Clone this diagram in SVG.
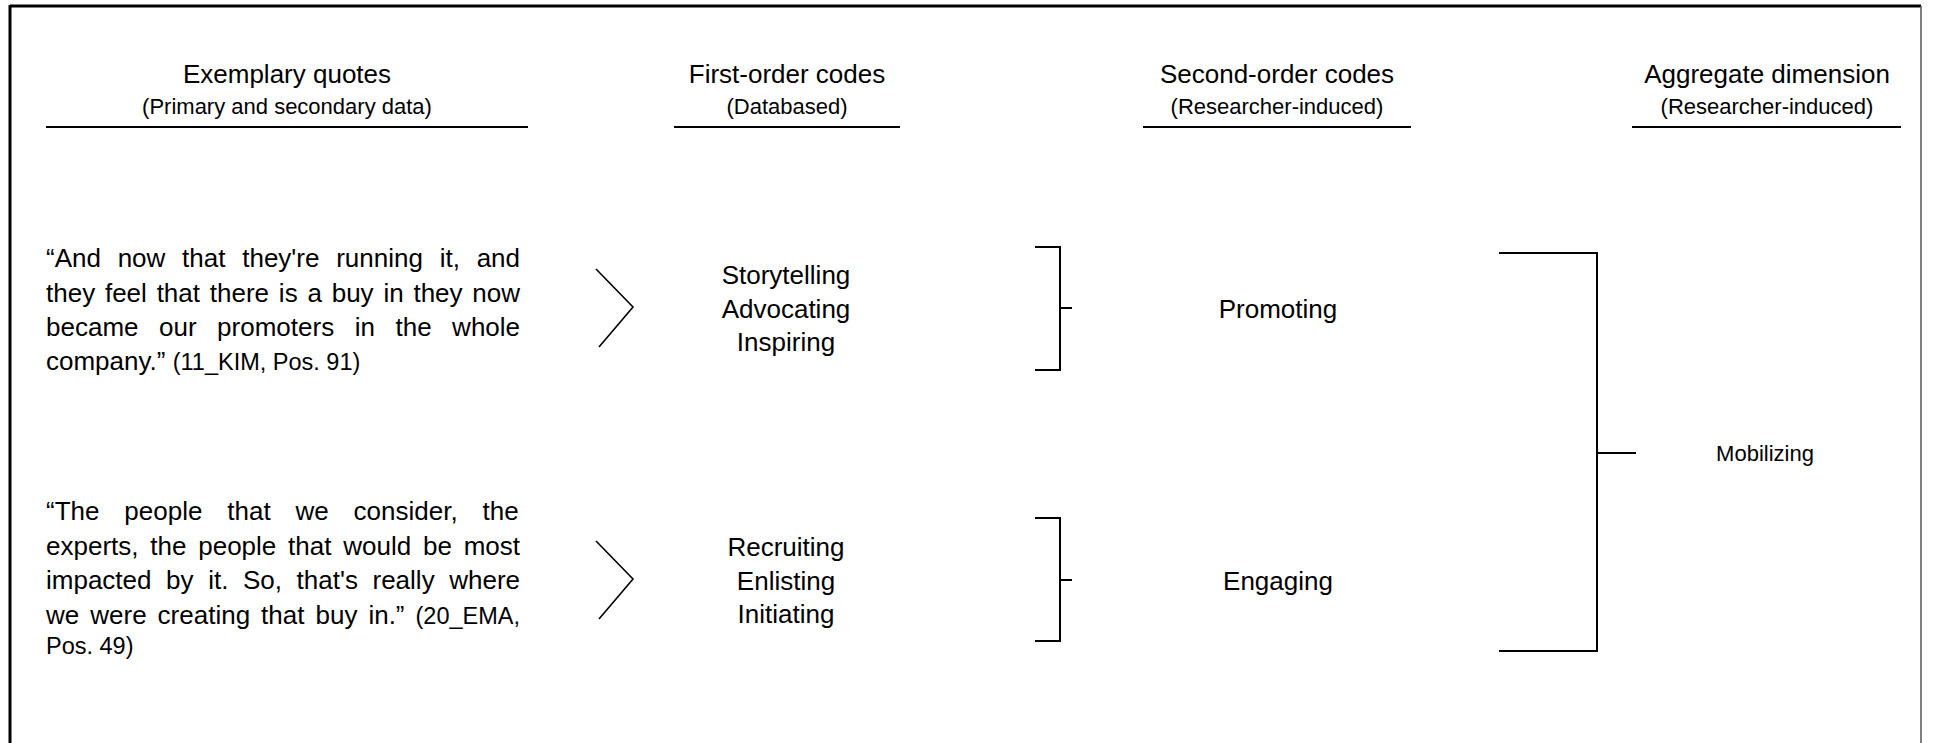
<svg xmlns="http://www.w3.org/2000/svg" width="1936" height="743" viewBox="0 0 1936 743">
  <style>
    text { font-family: "Liberation Sans", Arial, sans-serif; fill: #000; }
    .head { font-size: 26px; text-anchor: middle; }
    .sub { font-size: 22px; text-anchor: middle; }
    .code { font-size: 26px; text-anchor: middle; }
    .quote { font-size: 26px; }
    .cite { font-size: 23.5px; }
    .agg { font-size: 22px; text-anchor: middle; }
    .rule { stroke: #000; stroke-width: 2; fill: none; }
    .bracket { stroke: #000; stroke-width: 2; fill: none; }
    .chev { stroke: #000; stroke-width: 1.6; fill: none; stroke-linejoin: miter; }
  </style>

  <rect x="0" y="0" width="1936" height="743" fill="#fff"/>

  <!-- frame -->
  <g id="frame">
    <line x1="10" y1="6" x2="1921" y2="6" stroke="#000" stroke-width="3"/>
    <line x1="10" y1="5" x2="10" y2="743" stroke="#000" stroke-width="3"/>
    <line x1="1921" y1="6" x2="1921" y2="743" stroke="#555" stroke-width="1.5"/>
  </g>

  <!-- column headers -->
  <g id="header-quotes">
    <text class="head" x="287" y="83">Exemplary quotes</text>
    <text class="sub" x="287" y="114">(Primary and secondary data)</text>
    <line class="rule" x1="46" y1="127" x2="528" y2="127"/>
  </g>
  <g id="header-first">
    <text class="head" x="787" y="83">First-order codes</text>
    <text class="sub" x="787" y="114">(Databased)</text>
    <line class="rule" x1="674" y1="127" x2="900" y2="127"/>
  </g>
  <g id="header-second">
    <text class="head" x="1277" y="83">Second-order codes</text>
    <text class="sub" x="1277" y="114">(Researcher-induced)</text>
    <line class="rule" x1="1143" y1="127" x2="1411" y2="127"/>
  </g>
  <g id="header-aggregate">
    <text class="head" x="1767" y="83">Aggregate dimension</text>
    <text class="sub" x="1767" y="114">(Researcher-induced)</text>
    <line class="rule" x1="1632" y1="127" x2="1901" y2="127"/>
  </g>

  <!-- exemplary quotes, justified lines -->
  <g id="quote-kim">
    <text class="quote" x="46" y="267" style="word-spacing:9.52px">“And now that they're running it, and</text>
    <text class="quote" x="46" y="302" style="word-spacing:2.57px">they feel that there is a buy in they now</text>
    <text class="quote" x="46" y="336" style="word-spacing:13.3px">became our promoters in the whole</text>
    <text class="quote" x="46" y="370">company.” <tspan class="cite">(11_KIM, Pos. 91)</tspan></text>
  </g>
  <g id="quote-ema">
    <text class="quote" x="46" y="520" style="word-spacing:17.63px">“The people that we consider, the</text>
    <text class="quote" x="46" y="555" style="word-spacing:4.57px">experts, the people that would be most</text>
    <text class="quote" x="46" y="589" style="word-spacing:7.37px">impacted by it. So, that's really where</text>
    <text class="quote" x="46" y="624" style="word-spacing:3.78px">we were creating that buy in.” <tspan class="cite">(20_EMA,</tspan></text>
    <text class="cite" x="46" y="654">Pos. 49)</text>
  </g>

  <!-- first-order codes -->
  <g id="codes-promoting">
    <text class="code" x="786" y="284">Storytelling</text>
    <text class="code" x="786" y="318">Advocating</text>
    <text class="code" x="786" y="351">Inspiring</text>
  </g>
  <g id="codes-engaging">
    <text class="code" x="786" y="556">Recruiting</text>
    <text class="code" x="786" y="590">Enlisting</text>
    <text class="code" x="786" y="623">Initiating</text>
  </g>

  <!-- second-order codes -->
  <g id="theme-promoting">
    <text class="code" x="1278" y="318">Promoting</text>
  </g>
  <g id="theme-engaging">
    <text class="code" x="1278" y="590">Engaging</text>
  </g>

  <!-- aggregate dimension -->
  <g id="dimension-mobilizing">
    <text class="agg" x="1765" y="461">Mobilizing</text>
  </g>

  <!-- connectors: chevrons and brackets -->
  <g id="connectors">
    <polyline class="chev" points="596,269 633,307 599,347"/>
    <polyline class="chev" points="596,541 633,579 599,619"/>
    <path class="bracket" d="M1035,247 H1060 V370 H1035 M1060,308 H1072"/>
    <path class="bracket" d="M1035,518 H1060 V641 H1035 M1060,580 H1072"/>
    <path class="bracket" d="M1499,253 H1597 V651 H1499 M1597,453 H1636"/>
  </g>
</svg>
